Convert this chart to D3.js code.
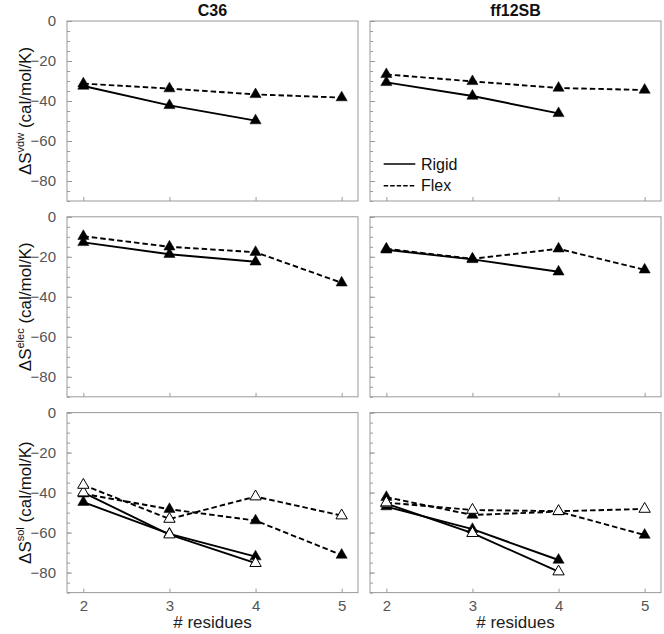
<!DOCTYPE html>
<html>
<head>
<meta charset="utf-8">
<script src="https://cdn.jsdelivr.net/npm/d3@7"></script>
<style>
  html, body { margin: 0; padding: 0; background: #fff; }
  text { font-family: "Liberation Sans", Arial, Helvetica, sans-serif; }
</style>
</head>
<body>
<svg id="chart" width="664" height="634"></svg>
<script>
// ---------- data ----------
const residues = [2, 3, 4, 5];
const rigidResidues = [2, 3, 4];
const forceFields = ["C36", "ff12SB"];
const terms = ["vdw", "elec", "sol"];
const yTicksMajor = [0, -20, -40, -60, -80];
const legendLabels = ["Rigid", "Flex"];

const vdwC36Rigid = [-32.5, -42.2, -49.8];
const vdwC36Flex  = [-31.3, -33.8, -36.7, -38.3];
const vdwFFRigid  = [-30.7, -37.5, -46.2];
const vdwFFFlex   = [-26.7, -30.2, -33.5, -34.5];

const elecC36Rigid = [-12.8, -18.7, -22.5];
const elecC36Flex  = [-9.7, -15.0, -17.7, -33.0];
const elecFFRigid  = [-16.5, -21.3, -27.5];
const elecFFFlex   = [-16.0, -21.0, -16.0, -26.5];

const solC36RigidFilled = [-44.8, -60.6, -72.0];
const solC36RigidOpen   = [-40.0, -61.0, -75.3];
const solC36FlexFilled  = [-40.6, -48.3, -54.0, -71.2];
const solC36FlexOpen    = [-36.2, -53.2, -42.0, -51.5];
const solFFRigidFilled  = [-47.0, -58.3, -73.7];
const solFFRigidOpen    = [-45.5, -60.3, -79.5];
const solFFFlexFilled   = [-42.3, -51.2, -49.5, -61.2];
const solFFFlexOpen     = [-45.0, -48.7, -49.3, -48.2];

// series per panel: [values, dashed?, open?]
const panels = {
  "vdw|C36":    [[vdwC36Rigid, false, false], [vdwC36Flex, true, false]],
  "vdw|ff12SB": [[vdwFFRigid, false, false], [vdwFFFlex, true, false]],
  "elec|C36":   [[elecC36Rigid, false, false], [elecC36Flex, true, false]],
  "elec|ff12SB":[[elecFFRigid, false, false], [elecFFFlex, true, false]],
  "sol|C36":    [[solC36RigidFilled, false, false], [solC36FlexFilled, true, false],
                 [solC36RigidOpen, false, true], [solC36FlexOpen, true, true]],
  "sol|ff12SB": [[solFFRigidFilled, false, false], [solFFFlexFilled, true, false],
                 [solFFRigidOpen, false, true], [solFFFlexOpen, true, true]]
};

// ---------- layout ----------
const svg = d3.select("#chart");
const colLeft = [67, 370];
const rowTop = [21, 216.8, 412.6];
const pw = 291, ph = 180;
const frameColor = "#999";
const tickColor = "#999";
const labelColor = "#555";

const x = d3.scaleLinear().domain([1.81, 5.19]).range([0, pw]);
const y = d3.scaleLinear().domain([-90, 0]).range([ph, 0]);
const minorTicks = d3.range(0, -91, -5);

const tri = d3.symbol().type(d3.symbolTriangle);

// column titles
forceFields.forEach((ff, c) => {
  svg.append("text")
    .attr("x", colLeft[c] + pw / 2).attr("y", 16)
    .attr("text-anchor", "middle")
    .attr("font-size", 16).attr("font-weight", "bold")
    .attr("fill", "#111")
    .text(ff);
});

terms.forEach((term, r) => {
  // y axis title
  const t = svg.append("text")
    .attr("transform", `translate(31,${rowTop[r] + ph / 2}) rotate(-90)`)
    .attr("text-anchor", "middle")
    .attr("font-size", 17).attr("fill", "#111");
  t.append("tspan").text("ΔS");
  t.append("tspan").attr("font-size", 11).attr("dy", -7).text(term);
  t.append("tspan").attr("dy", 7).text(" (cal/mol/K)");

  forceFields.forEach((ff, c) => {
    const g = svg.append("g").attr("transform", `translate(${colLeft[c]},${rowTop[r]})`);

    // minor y ticks
    const ym = g.append("g").call(d3.axisLeft(y).tickValues(minorTicks).tickSize(-3).tickFormat(""));
    ym.select(".domain").remove();
    ym.selectAll("line").attr("stroke", tickColor);
    // major y ticks
    const yM = g.append("g").call(d3.axisLeft(y).tickValues(yTicksMajor).tickSize(-5).tickPadding(11)
      .tickFormat(c === 0 ? (d => d === 0 ? "0" : "\u2212" + Math.abs(d)) : ""));
    yM.select(".domain").remove();
    yM.selectAll("line").attr("stroke", tickColor);
    yM.selectAll("text").attr("font-size", 15).attr("fill", labelColor)
      .attr("font-family", "Liberation Sans, Arial, sans-serif");

    // x ticks
    const xa = g.append("g").attr("transform", `translate(0,${ph})`)
      .call(d3.axisBottom(x).tickValues(residues).tickSize(-4).tickPadding(8)
        .tickFormat(r === 2 ? d3.format("d") : ""));
    xa.select(".domain").remove();
    xa.selectAll("line").attr("stroke", tickColor);
    xa.selectAll("text").attr("font-size", 15).attr("fill", labelColor)
      .attr("font-family", "Liberation Sans, Arial, sans-serif");

    // frame
    g.append("rect").attr("x", 0).attr("y", 0).attr("width", pw).attr("height", ph)
      .attr("fill", "none").attr("stroke", frameColor).attr("stroke-width", 1);

    const series = panels[term + "|" + ff];
    const line = d3.line().x((d, i) => x(residues[i])).y(d => y(d));
    // lines
    series.forEach(([vals, dashed]) => {
      g.append("path").datum(vals)
        .attr("d", line)
        .attr("fill", "none").attr("stroke", "#000").attr("stroke-width", 1.9)
        .attr("stroke-dasharray", dashed ? "5.5,3" : null);
    });
    // markers
    series.forEach(([vals, dashed, open]) => {
      g.selectAll(null).data(vals).enter().append("path")
        .attr("transform", (d, i) => `translate(${x(residues[i])},${y(d)})`)
        .attr("d", tri.size(open ? 56 : 54)())
        .attr("fill", open ? "#fff" : "#000")
        .attr("stroke", "#000").attr("stroke-width", open ? 1 : 0.5);
    });

    // x axis title
    if (r === 2) {
      g.append("text").attr("x", pw / 2).attr("y", ph + 35)
        .attr("text-anchor", "middle").attr("font-size", 17).attr("fill", "#222")
        .text("# residues");
    }

    // legend
    if (r === 0 && c === 1) {
      legendLabels.forEach((lab, i) => {
        const ly = 143 + i * 21.7;
        g.append("line").attr("x1", 13.7).attr("x2", 45.3).attr("y1", ly).attr("y2", ly)
          .attr("stroke", "#000").attr("stroke-width", 1.6)
          .attr("stroke-dasharray", i === 1 ? "4.5,2" : null);
        g.append("text").attr("x", 51).attr("y", ly + 5.5)
          .attr("font-size", 16).attr("fill", "#111").text(lab);
      });
    }
  });
});
</script>
</body>
</html>
